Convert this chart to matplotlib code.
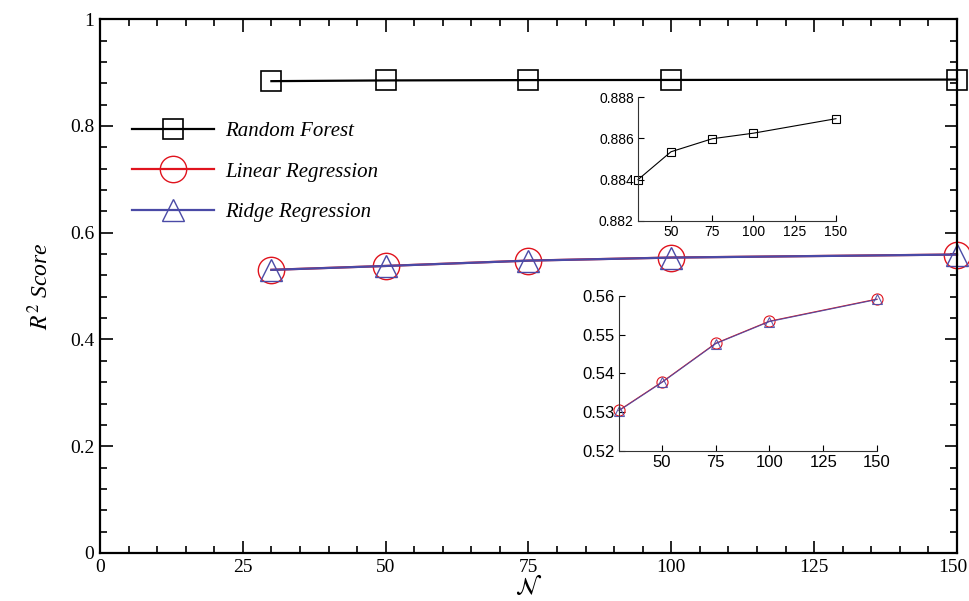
import matplotlib
matplotlib.use("Agg")
import matplotlib.pyplot as plt
import matplotlib.transforms as mtransforms
from matplotlib.ticker import MultipleLocator

# data
n_values = [30, 50, 75, 100, 150]
rf_scores = [0.8840, 0.88535, 0.88598, 0.88625, 0.88695]
lr_scores = [0.5305, 0.5378, 0.5478, 0.5535, 0.5592]
ridge_scores = [0.5304, 0.5377, 0.5477, 0.5534, 0.5591]

red = '#e0141e'
blue = '#4a4aa6'

plt.rcParams['mathtext.fontset'] = 'stix'
serif = 'Liberation Serif'
sans = 'Liberation Sans'

fig = plt.figure(figsize=(9.69, 6.01), dpi=100)
ax = fig.add_axes([0.1032, 0.0799, 0.8844, 0.8881])

ax.plot(n_values, rf_scores, color='black', lw=1.6, marker='s', ms=14,
        mfc='none', mec='black', mew=1.2, label='Random Forest', clip_on=False)
ax.plot(n_values, lr_scores, color=red, lw=1.6, marker='o', ms=19,
        mfc='none', mec=red, mew=1.0, label='Linear Regression', clip_on=False)
ax.plot(n_values, ridge_scores, color=blue, lw=1.6, marker='^', ms=16,
        mfc='none', mec=blue, mew=1.0, label='Ridge Regression', clip_on=False)

ax.set_xlim(0, 150)
ax.set_ylim(0, 1)
ax.set_xticks([0, 25, 50, 75, 100, 125, 150])
ax.xaxis.set_minor_locator(MultipleLocator(5))
ax.set_yticks([0, 0.2, 0.4, 0.6, 0.8, 1.0], ['0', '0.2', '0.4', '0.6', '0.8', '1'])
ax.yaxis.set_minor_locator(MultipleLocator(0.04))
ax.tick_params(which='both', direction='in', top=True, right=True, width=1.2)
ax.tick_params(which='major', length=9, labelsize=14, pad=4)
ax.tick_params(which='minor', length=5)
for lab in ax.get_xticklabels() + ax.get_yticklabels():
    lab.set_fontfamily(serif)
for s in ax.spines.values():
    s.set_linewidth(1.6)

ax.set_xlabel(r'$\mathcal{N}$', fontsize=17, labelpad=-1)
ax.set_ylabel(r'$R^2$ Score', fontsize=17, fontfamily=serif, style='italic', labelpad=12)

leg = ax.legend(loc='upper left', bbox_to_anchor=(0.016, 0.843), frameon=False,
                handlelength=3.9, labelspacing=1.0, handletextpad=0.55,
                prop={'family': serif, 'style': 'italic', 'size': 15})

# inset: random forest
ax1 = fig.add_axes([0.6584, 0.6323, 0.2043, 0.2063])
ax1.plot(n_values, rf_scores, color='black', lw=0.8, marker='s', ms=6,
         mfc='none', mec='black', mew=0.8, clip_on=False)
ax1.set_xlim(30, 150)
ax1.set_ylim(0.882, 0.888)
ax1.set_xticks([50, 75, 100, 125, 150])
ax1.set_yticks([0.882, 0.884, 0.886, 0.888])
ax1.yaxis.set_major_formatter(plt.FormatStrFormatter('%.3f'))

# inset: linear / ridge
ax2 = fig.add_axes([0.6388, 0.2496, 0.2662, 0.2579])
ax2.plot(n_values, lr_scores, color=red, lw=0.8, marker='o', ms=8,
         mfc='none', mec=red, mew=0.8, clip_on=False)
ax2.plot(n_values, ridge_scores, color=blue, lw=0.8, marker='^', ms=7,
         mfc='none', mec=blue, mew=0.8, alpha=0.9, clip_on=False)
ax2.set_xlim(30, 150)
ax2.set_ylim(0.52, 0.56)
ax2.set_xticks([50, 75, 100, 125, 150])
ax2.set_yticks([0.52, 0.53, 0.54, 0.55, 0.56])
ax2.yaxis.set_major_formatter(plt.FormatStrFormatter('%.2f'))

for a, fs in ((ax1, 10), (ax2, 12)):
    a.patch.set_alpha(0)
    a.spines['top'].set_visible(False)
    a.spines['right'].set_visible(False)
    for s in ('left', 'bottom'):
        a.spines[s].set_linewidth(0.8)
        a.spines[s].set_color('#333333')
    a.tick_params(direction='in', length=4, width=0.8, labelsize=fs, pad=3)
    for lab in a.get_xticklabels() + a.get_yticklabels():
        lab.set_fontfamily(sans)

# keep the last x label inside the canvas
last = ax.xaxis.get_major_ticks()[-1].label1
last.set_transform(last.get_transform() +
                   mtransforms.ScaledTranslation(-4 / 100, 0, fig.dpi_scale_trans))

fig.savefig('out.png', dpi=100)
